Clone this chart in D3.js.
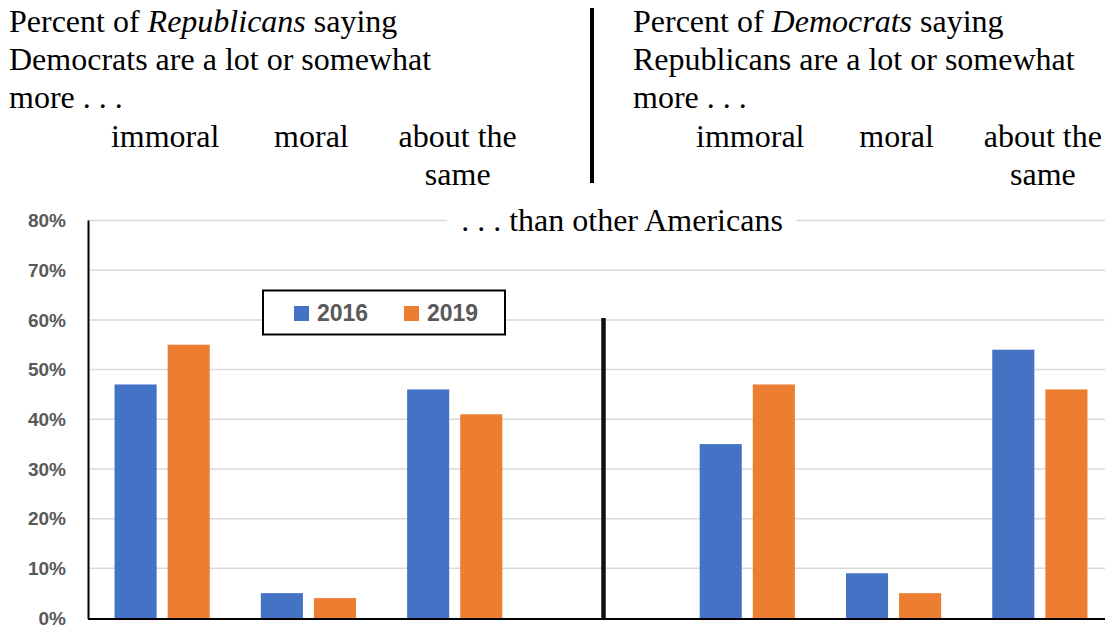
<!DOCTYPE html>
<html><head><meta charset="utf-8">
<script src="https://cdn.jsdelivr.net/npm/d3@7"></script>
<style>body{margin:0;background:#fff}svg{display:block}</style>
</head><body>
<svg id="c" width="1105" height="627"></svg>
<script>
const categories = ["L-immoral","L-moral","L-same","gap","R-immoral","R-moral","R-same"];
const categoryLabels = [["immoral"],["moral"],["about the","same"],null,["immoral"],["moral"],["about the","same"]];
const series = ["2016","2019"];
const values2016 = [47,5,46,null,35,9,54];
const values2019 = [55,4,41,null,47,5,46];
const yTicks = [0,10,20,30,40,50,60,70,80];
const colors = {"2016":"#4472c4","2019":"#ed7d31"};

const svg = d3.select("#c");
const serif = "'Liberation Serif','Times New Roman',serif";
const sans = "'Liberation Sans',Arial,sans-serif";
const FS = 32;

const x = d3.scaleBand().domain(categories).range([89,1113]).padding(0);
const x1 = d3.scaleBand().domain(series).range([0,x.bandwidth()]).paddingInner(0.2075).paddingOuter(0.481);
const y = d3.scaleLinear().domain([0,80]).range([618,220.5]);

// gridlines
svg.append("g").selectAll("line").data(yTicks.filter(d=>d>0)).join("line")
  .attr("x1",88).attr("x2",1105).attr("y1",d=>y(d)).attr("y2",d=>y(d))
  .attr("stroke","#d9d9d9").attr("stroke-width",1.5);

// y axis labels
const yAxis = d3.axisLeft(y).tickValues(yTicks).tickFormat(d=>d+"%").tickSize(0).tickPadding(0);
const ga = svg.append("g").attr("transform","translate(66,0)").call(yAxis);
ga.select(".domain").remove();
ga.selectAll("text").attr("font-family",sans).attr("font-weight","bold").attr("font-size",19).attr("fill","#595959").attr("dy","0.33em");

// bars
const data = [];
categories.forEach((c,i)=>{
  if(values2016[i]!=null) data.push({c,s:"2016",v:values2016[i]});
  if(values2019[i]!=null) data.push({c,s:"2019",v:values2019[i]});
});
svg.append("g").selectAll("rect").data(data).join("rect")
  .attr("x",d=>x(d.c)+x1(d.s)).attr("width",x1.bandwidth())
  .attr("y",d=>y(d.v)).attr("height",d=>y(0)-y(d.v))
  .attr("fill",d=>colors[d.s]);

// axes lines
svg.append("line").attr("x1",88.5).attr("x2",88.5).attr("y1",y(80)).attr("y2",y(0)+1).attr("stroke","#000").attr("stroke-width",2);
svg.append("line").attr("x1",88).attr("x2",1105).attr("y1",y(0)+1).attr("y2",y(0)+1).attr("stroke","#000").attr("stroke-width",2);

// divider in chart
const gx = x("gap")+x.bandwidth()/2+2.5;
svg.append("line").attr("x1",gx).attr("x2",gx).attr("y1",y(60.4)).attr("y2",y(0)).attr("stroke","#111").attr("stroke-width",4.5);

// title in chart
const mask = svg.append("rect").attr("fill","#fff");
const tt = svg.append("text").attr("x",622).attr("y",231).attr("text-anchor","middle")
  .attr("font-family",serif).attr("font-size",FS).text(". . . than other Americans");
const bb = tt.node().getBBox();
mask.attr("x",bb.x-14).attr("y",y(80)-4).attr("width",bb.width+28).attr("height",10);

// legend
const lg = svg.append("g");
lg.append("rect").attr("x",263).attr("y",290.5).attr("width",242).attr("height",44).attr("fill","#fff").attr("stroke","#000").attr("stroke-width",2);
const legX = {"2016":294,"2019":404};
series.forEach(s=>{
  lg.append("rect").attr("x",legX[s]).attr("y",306).attr("width",15).attr("height",15).attr("fill",colors[s]);
  lg.append("text").attr("x",legX[s]+23).attr("y",321).attr("font-family",sans).attr("font-weight","bold")
    .attr("font-size",23).attr("fill","#595959").text(s);
});

// headers
function header(x0, party, other){
  const t1 = svg.append("text").attr("font-family",serif).attr("font-size",FS).attr("fill","#000");
  t1.append("tspan").attr("x",x0).attr("y",32).text("Percent of ");
  t1.append("tspan").attr("font-style","italic").text(party);
  t1.append("tspan").text(" saying");
  svg.append("text").attr("font-family",serif).attr("font-size",FS).attr("x",x0).attr("y",70).text(other+" are a lot or somewhat");
  svg.append("text").attr("font-family",serif).attr("font-size",FS).attr("x",x0).attr("y",108).text("more . . .");
}
header(9,"Republicans","Democrats");
header(633,"Democrats","Republicans");

// category labels
categories.forEach((c,i)=>{
  const lab = categoryLabels[i];
  if(!lab) return;
  const cx = x(c)+x.bandwidth()/2+3;
  lab.forEach((line,j)=>{
    svg.append("text").attr("x",cx).attr("y",147+j*38).attr("text-anchor","middle")
      .attr("font-family",serif).attr("font-size",FS).text(line);
  });
});

// top divider
svg.append("line").attr("x1",592).attr("x2",592).attr("y1",8).attr("y2",183).attr("stroke","#000").attr("stroke-width",4);
</script>
</body></html>
